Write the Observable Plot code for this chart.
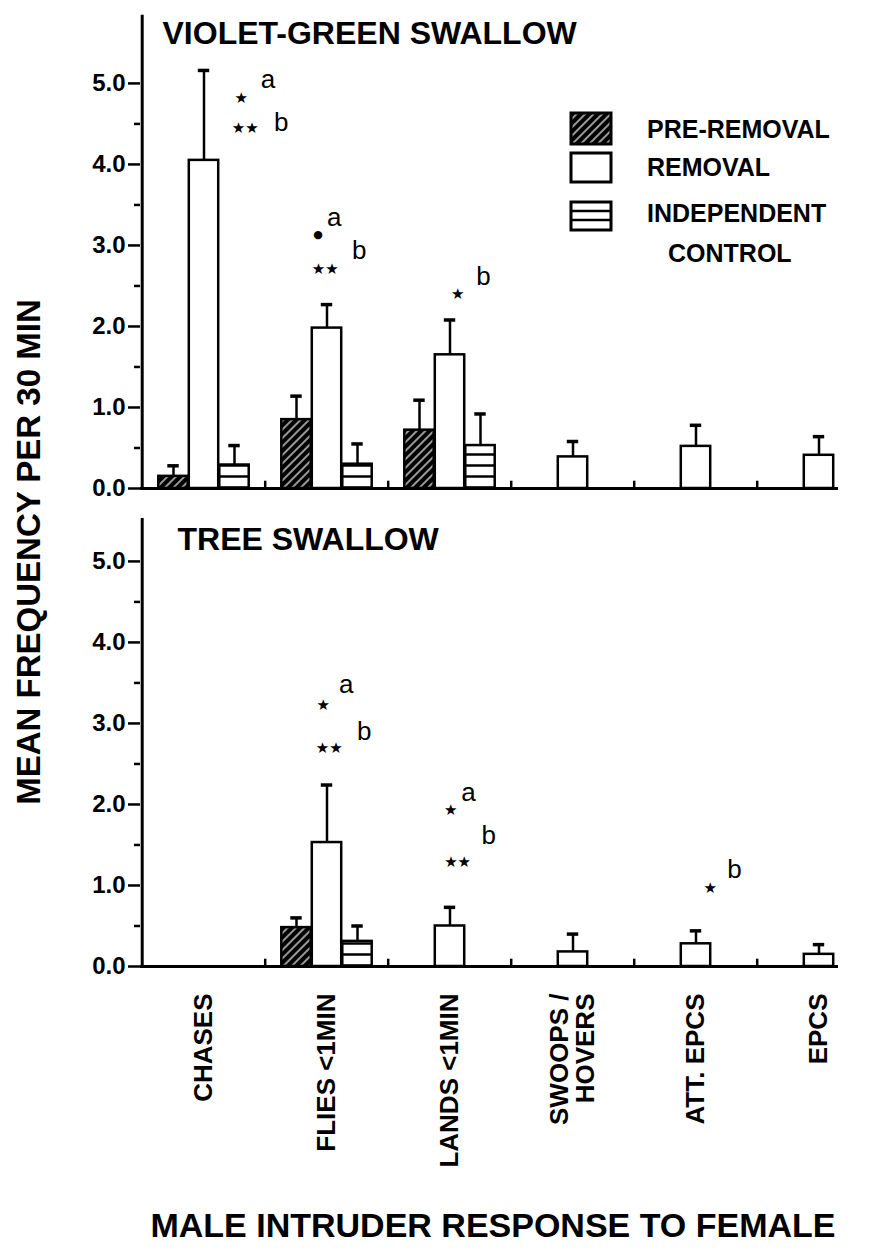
<!DOCTYPE html>
<html>
<head>
<meta charset="utf-8">
<script src="https://cdn.jsdelivr.net/npm/d3@7"></script>
<script src="https://cdn.jsdelivr.net/npm/@observablehq/plot@0.6"></script>
<style>
  body { margin: 0; background: #fff; }
  #wrap { position: relative; width: 878px; height: 1251px; font-family: "Liberation Sans", Arial, Helvetica, sans-serif; color: #000; overflow: hidden; }
  #wrap svg.plot-main { position: absolute; left: 0; top: 0; }
  .lbl { position: absolute; white-space: nowrap; font-weight: bold; line-height: 1; }
</style>
</head>
<body>
<svg width="0" height="0" style="position:absolute">
  <defs>
    <pattern id="hatchPre" patternUnits="userSpaceOnUse" width="6" height="6" patternTransform="rotate(45)">
      <rect width="6" height="6" fill="#000"></rect>
      <line x1="3" y1="0" x2="3" y2="6" stroke="#fff" stroke-width="1.2"></line>
    </pattern>
    <pattern id="linesCtl" patternUnits="userSpaceOnUse" width="10" height="11">
      <rect width="10" height="11" fill="#fff"></rect>
      <line x1="0" y1="3.5" x2="10" y2="3.5" stroke="#000" stroke-width="2.5"></line>
    </pattern>
  </defs>
</svg>
<div id="wrap"></div>
<script>
// ---------------- data ----------------
const categories = ["CHASES", "FLIES <1MIN", "LANDS <1MIN", "SWOOPS /\nHOVERS", "ATT. EPCS", "EPCS"];
const seriesNames = ["PRE-REMOVAL", "REMOVAL", "INDEPENDENT CONTROL"];
const speciesNames = ["VIOLET-GREEN SWALLOW", "TREE SWALLOW"];

// Violet-green swallow: means and standard errors
const vgPre   = [0.15, 0.85, 0.72, null, null, null];
const vgPreSE = [0.13, 0.29, 0.37, null, null, null];
const vgRem   = [4.05, 1.98, 1.65, 0.39, 0.52, 0.41];
const vgRemSE = [1.11, 0.29, 0.43, 0.19, 0.26, 0.23];
const vgCtl   = [0.29, 0.30, 0.53, null, null, null];
const vgCtlSE = [0.24, 0.25, 0.39, null, null, null];

// Tree swallow: means and standard errors
const tsPre   = [null, 0.48, null, null, null, null];
const tsPreSE = [null, 0.12, null, null, null, null];
const tsRem   = [null, 1.53, 0.50, 0.18, 0.28, 0.15];
const tsRemSE = [null, 0.71, 0.23, 0.22, 0.16, 0.12];
const tsCtl   = [null, 0.31, null, null, null, null];
const tsCtlSE = [null, 0.19, null, null, null, null];

const yTicks = [0, 1, 2, 3, 4, 5];
const yMinorTicks = [0.5, 1.5, 2.5, 3.5, 4.5];
const axisTop = [5.84, 5.53];

// significance annotations (species index, category index, y value, shift in bar widths, text)
const annSpecies  = [0, 0, 0, 0,  0, 0, 0, 0,  0, 0,  1, 1, 1, 1,  1, 1, 1, 1,  1, 1];
const annCategory = [0, 0, 0, 0,  1, 1, 1, 1,  2, 2,  1, 1, 1, 1,  2, 2, 2, 2,  4, 4];
const annValue    = [4.82, 5.05, 4.45, 4.51,  3.13, 3.34, 2.71, 2.93,  2.40, 2.62,  3.23, 3.48, 2.70, 2.90,  1.93, 2.14, 1.29, 1.61,  0.97, 1.20];
const annShift    = [1.22, 2.10, 1.35, 2.53,  -0.29, 0.24, -0.06, 1.06,  0.25, 1.10,  -0.12, 0.63, 0.07, 1.22,  0.02, 0.61, 0.25, 1.27,  0.47, 1.26];
const annText     = ["★", "a", "★★", "b",  "●", "a", "★★", "b",  "★", "b",  "★", "a", "★★", "b",  "★", "a", "★★", "b",  "★", "b"];

// ---------------- build rows ----------------
const seriesBySpecies = [
  [[vgPre, vgPreSE], [vgRem, vgRemSE], [vgCtl, vgCtlSE]],
  [[tsPre, tsPreSE], [tsRem, tsRemSE], [tsCtl, tsCtlSE]]
];
const rows = [];
speciesNames.forEach((sp, si) => {
  seriesBySpecies[si].forEach(([vals, ses], ki) => {
    vals.forEach((v, ci) => {
      if (v != null) rows.push({species: sp, category: categories[ci], series: seriesNames[ki], value: v, se: ses[ci]});
    });
  });
});
const annRows = annText.map((t, i) => ({
  species: speciesNames[annSpecies[i]], category: categories[annCategory[i]],
  y: annValue[i], shift: annShift[i], text: t
}));

// ---------------- layout ----------------
const W = 878, H = 1175;
const X0 = 140, X1 = 881.5;
const step = (X1 - X0) / categories.length;
const barW = 30, barStep = 30.5, capW = 12;
const fills = ["url(#hatchPre)", "white", "url(#linesCtl)"];
const FONT = "'Liberation Sans', Arial, Helvetica, sans-serif";

const marks = [];

// y axis line per panel
marks.push(Plot.ruleX(speciesNames.map((s, i) => ({species: s, top: axisTop[i]})), {
  x: () => categories[0], y1: 0, y2: "top", fy: "species", dx: -step / 2, strokeWidth: 3
}));
// baseline
marks.push(Plot.ruleY([0], {strokeWidth: 3, insetRight: 40}));
// group boundary ticks
marks.push(Plot.ruleX(categories.slice(1), {x: d => d, y1: 0, y2: 0.09, dx: -step / 2, strokeWidth: 2.5}));

// bars with error bars
seriesNames.forEach((s, k) => {
  const d = rows.filter(r => r.series === s);
  const dx = (k - 1) * barStep;
  marks.push(Plot.ruleX(d, {x: "category", y1: "value", y2: r => r.value + r.se, fy: "species", dx, strokeWidth: 2.5}));
  marks.push(Plot.tickY(d, {x: "category", y: r => r.value + r.se, fy: "species", dx,
    insetLeft: (step - capW) / 2, insetRight: (step - capW) / 2, strokeWidth: 3.5}));
  marks.push(Plot.barY(d, {x: "category", y: "value", fy: "species", fill: fills[k], stroke: "black",
    strokeWidth: 2.5, insetLeft: (step - barW) / 2, insetRight: (step - barW) / 2, dx}));
});

// annotations
annRows.forEach(a => {
  const isSym = a.text !== "a" && a.text !== "b";
  marks.push(Plot.text([a], {
    x: "category", y: "y", fy: "species", text: "text", dx: a.shift * barStep,
    fontSize: isSym ? (a.text === "●" ? 11 : 15) : 26,
    fontFamily: isSym ? "DejaVu Sans" : FONT,
    fill: "black"
  }));
});

// panel titles
marks.push(Plot.text([{species: speciesNames[0], t: "VIOLET-GREEN SWALLOW"}], {
  fy: "species", text: "t", frameAnchor: "left", y: 5.61, dx: 22, textAnchor: "start",
  fontSize: 32, fontWeight: "bold"
}));
marks.push(Plot.text([{species: speciesNames[1], t: "TREE SWALLOW"}], {
  fy: "species", text: "t", frameAnchor: "left", y: 5.27, dx: 37, textAnchor: "start",
  fontSize: 32, fontWeight: "bold"
}));

// axes
marks.push(Plot.axisY({ticks: yTicks, tickFormat: d => d.toFixed(1), tickSize: 12, tickPadding: 3,
  fontSize: 24, fontWeight: "bold", strokeWidth: 2.5, label: null}));
marks.push(Plot.axisY({ticks: yMinorTicks, tickFormat: () => "", tickSize: 6, strokeWidth: 2.5, label: null}));
marks.push(Plot.axisX({anchor: "bottom", tickSize: 0, tickPadding: 27, tickRotate: -90,
  fontSize: 26, fontWeight: "bold", label: null}));

const chart = Plot.plot({
  width: W, height: H,
  marginTop: 10, marginBottom: H - 966, marginLeft: X0, marginRight: 0,
  style: {fontFamily: FONT, color: "#000", background: "white"},
  x: {domain: categories, range: [X0, X1], padding: 0},
  y: {domain: [0, 5.9]},
  fy: {domain: speciesNames, padding: 0, axis: null},
  marks
});
chart.classList.add("plot-main");
const wrap = document.getElementById("wrap");
wrap.appendChild(chart);

// ---------------- legend (HTML overlay) ----------------
const legendSvg = `
<svg width="50" height="130" style="position:absolute;left:568px;top:110px">
  <rect x="3" y="3" width="40" height="31" fill="url(#hatchPre)" stroke="#000" stroke-width="3"></rect>
  <rect x="3" y="43" width="40" height="29" fill="#fff" stroke="#000" stroke-width="3"></rect>
  <rect x="3" y="92" width="40" height="28" fill="#fff" stroke="#000" stroke-width="3"></rect>
  <line x1="3" y1="101" x2="43" y2="101" stroke="#000" stroke-width="2.5"></line>
  <line x1="3" y1="110" x2="43" y2="110" stroke="#000" stroke-width="2.5"></line>
</svg>`;
wrap.insertAdjacentHTML("beforeend", legendSvg);
const legendText = [
  ["PRE-REMOVAL", 647, 129],
  ["REMOVAL", 647, 167],
  ["INDEPENDENT", 647, 213],
  ["CONTROL", 668, 253]
];
legendText.forEach(([t, x, y]) => {
  const d = document.createElement("div");
  d.className = "lbl";
  d.textContent = t;
  d.style.cssText = `left:${x}px;top:${y}px;transform:translateY(-50%);font-size:25px;`;
  wrap.appendChild(d);
});

// axis titles
const yl = document.createElement("div");
yl.className = "lbl";
yl.textContent = "MEAN FREQUENCY PER 30 MIN";
yl.style.cssText = "left:28px;top:552px;transform:translate(-50%,-50%) rotate(-90deg);font-size:33px;";
wrap.appendChild(yl);

const xl = document.createElement("div");
xl.className = "lbl";
xl.textContent = "MALE INTRUDER RESPONSE TO FEMALE";
xl.style.cssText = "left:493px;top:1225px;transform:translate(-50%,-50%);font-size:34px;";
wrap.appendChild(xl);
</script>
</body>
</html>
